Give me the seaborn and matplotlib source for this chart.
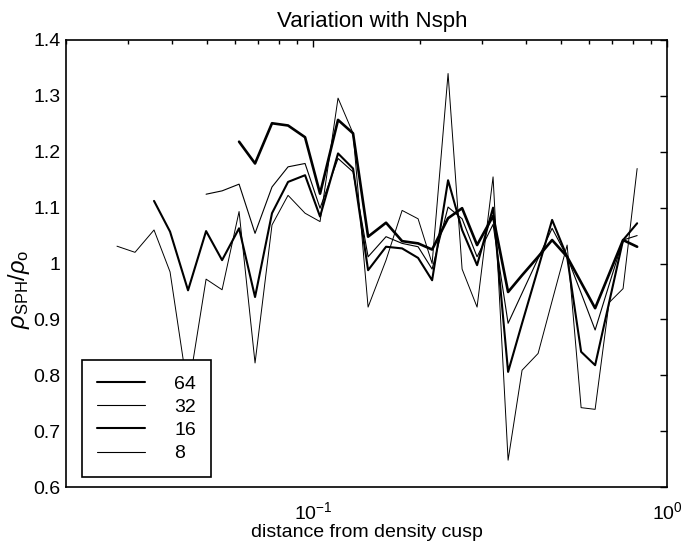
import numpy as np
import pandas as pd
import matplotlib
matplotlib.use("Agg")
import matplotlib.pyplot as plt
import seaborn as sns
from matplotlib.ticker import LogLocator

# ---- data ----
distance = [0.02787, 0.03134, 0.03547, 0.03937, 0.04426, 0.04978, 0.05524, 0.06170,
            0.06846, 0.07645, 0.08487, 0.09480, 0.10452, 0.11750, 0.12956, 0.14289,
            0.16060, 0.17832, 0.19786, 0.21677, 0.24049, 0.26349, 0.29047, 0.32233,
            0.35546, 0.38930, 0.43212, 0.47338, 0.52203, 0.57176, 0.62634, 0.68596,
            0.75129, 0.82336]
nan = np.nan
rho_64 = [nan, nan, nan, nan, nan, nan, nan, 1.218, 1.179, 1.251, 1.247, 1.226, 1.125,
          1.257, 1.233, 1.048, 1.073, 1.040, 1.036, 1.025, 1.081, 1.099, 1.033, 1.085,
          0.949, 0.979, 1.012, 1.042, 1.012, 0.966, 0.920, 0.981, 1.042, 1.030]
rho_32 = [nan, nan, nan, nan, nan, 1.124, 1.130, 1.142, 1.054, 1.137, 1.173, 1.179, 1.099,
          1.188, 1.164, 1.012, 1.048, 1.036, 1.030, 0.990, 1.101, 1.080, 1.012, 1.070,
          0.893, 0.947, 1.009, 1.063, 1.012, 0.947, 0.881, 0.962, 1.042, 1.050]
rho_16 = [nan, nan, 1.112, 1.057, 0.952, 1.058, 1.006, 1.063, 0.940, 1.090, 1.146, 1.158,
          1.084, 1.197, 1.170, 0.988, 1.030, 1.027, 1.010, 0.970, 1.149, 1.060, 0.997,
          1.100, 0.806, 0.893, 0.991, 1.078, 1.012, 0.842, 0.818, 0.930, 1.042, 1.072]
rho_8 = [1.031, 1.020, 1.060, 0.985, 0.770, 0.972, 0.953, 1.093, 0.822, 1.069, 1.122,
         1.090, 1.075, 1.296, 1.233, 0.922, 1.006, 1.095, 1.080, 1.000, 1.340, 0.990,
         0.922, 1.155, 0.648, 0.809, 0.839, 0.933, 1.033, 0.742, 0.739, 0.930, 0.955,
         1.170]
series_labels = ["64", "32", "16", "8"]
y_ticks = [0.6, 0.7, 0.8, 0.9, 1.0, 1.1, 1.2, 1.3, 1.4]
y_tick_labels = ["0.6", "0.7", "0.8", "0.9", "1", "1.1", "1.2", "1.3", "1.4"]

# ---- style ----
sns.set_style("white")
plt.rcParams["font.family"] = ["Liberation Sans", "DejaVu Sans"]
plt.rcParams["mathtext.fontset"] = "custom"
plt.rcParams["mathtext.rm"] = "Liberation Sans"
plt.rcParams["mathtext.it"] = "Liberation Sans:italic"
plt.rcParams["text.color"] = "black"
plt.rcParams["axes.labelcolor"] = "black"
plt.rcParams["xtick.color"] = "black"
plt.rcParams["ytick.color"] = "black"

fig = plt.figure(figsize=(6.82, 5.42), dpi=100)
ax = fig.add_axes([66 / 682, 55 / 542, 601 / 682, 447 / 542])

widths = {"64": 1.9, "32": 0.8, "16": 1.5, "8": 0.7}
series = {"64": rho_64, "32": rho_32, "16": rho_16, "8": rho_8}
for lab in series_labels:
    df = pd.DataFrame({"distance": distance, "rho": series[lab]}).dropna()
    sns.lineplot(data=df, x="distance", y="rho", ax=ax, color="black",
                 linewidth=widths[lab], label=lab, sort=False, estimator=None)

ax.set_xscale("log")
ax.set_xlim(0.02, 1.0)
ax.set_ylim(0.6, 1.4)
ax.set_yticks(y_ticks)
ax.set_yticklabels(y_tick_labels)
ax.xaxis.set_major_locator(LogLocator(base=10, numticks=10))
ax.xaxis.set_minor_locator(LogLocator(base=10, subs=np.arange(2, 10), numticks=20))
ax.tick_params(axis="both", which="both", direction="in", top=True, right=True,
               colors="black", labelcolor="black", labelsize=14, width=1.0)
ax.tick_params(axis="both", which="major", length=5, pad=4)
ax.tick_params(axis="x", which="major", pad=10)
ax.tick_params(axis="x", which="minor", length=3)
for sp in ax.spines.values():
    sp.set_color("black")
    sp.set_linewidth(1.2)

ax.set_title("Variation with Nsph", fontsize=16, pad=9, x=0.509, color="black")
ax.set_xlabel("distance from density cusp", fontsize=14, labelpad=1, color="black")
ax.set_ylabel(r"$\rho_{\mathrm{SPH}}/\rho_{\mathrm{o}}$", fontsize=17, color="black")
ax.yaxis.set_label_coords(-0.056, 0.443)

leg = ax.legend(loc="lower left", bbox_to_anchor=(16 / 601, 10 / 447), borderaxespad=0,
                fontsize=14, frameon=True, fancybox=False, framealpha=1,
                edgecolor="black", handlelength=2.5, handletextpad=1.5,
                labelspacing=0.29, borderpad=0.75)
leg.get_frame().set_linewidth(1.2)
for text in leg.get_texts():
    text.set_color("black")
for line in leg.get_lines():
    line.set_linewidth(1.5 if line.get_label() in ("64", "16") else 0.8)

fig.savefig("out.png", dpi=100)
